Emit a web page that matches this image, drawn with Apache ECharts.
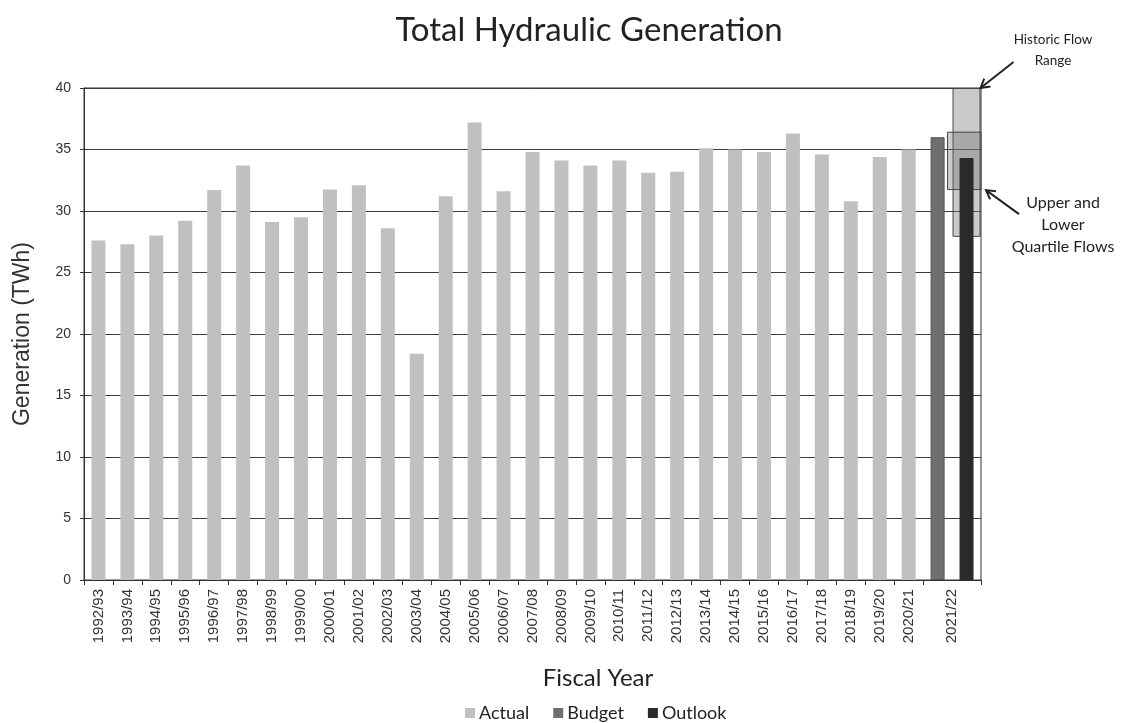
<!DOCTYPE html>
<html>
<head>
<meta charset="utf-8">
<script src="https://cdn.jsdelivr.net/npm/echarts@6/dist/echarts.min.js"></script>
<style>
  html, body { margin: 0; padding: 0; background: #ffffff; }
  #chart { width: 1125px; height: 723px; }
</style>
</head>
<body>
<div id="chart"></div>
<script>
// Fiscal years with recorded generation
const fiscalYears = [
  '1992/93', '1993/94', '1994/95', '1995/96', '1996/97', '1997/98', '1998/99', '1999/00',
  '2000/01', '2001/02', '2002/03', '2003/04', '2004/05', '2005/06', '2006/07', '2007/08',
  '2008/09', '2009/10', '2010/11', '2011/12', '2012/13', '2013/14', '2014/15', '2015/16',
  '2016/17', '2017/18', '2018/19', '2019/20', '2020/21'
];
// Actual hydraulic generation (TWh)
const actualTWh = [
  27.6, 27.3, 28.0, 29.2, 31.7, 33.7, 29.1, 29.5,
  31.75, 32.1, 28.6, 18.4, 31.2, 37.2, 31.6, 34.8,
  34.1, 33.7, 34.1, 33.1, 33.2, 35.1, 35.0, 34.8,
  36.3, 34.6, 30.8, 34.4, 35.0
];
// Current year: budget and outlook (TWh)
const forecastYear = '2021/22';
const budgetTWh = 36.0;
const outlookTWh = 34.3;
// Flow ranges shown around the outlook (TWh)
const historicRange = [27.9, 40.0];
const quartileRange = [31.7, 36.45];
// Value axis ticks
const yMin = 0, yMax = 40, yStep = 5;

const FONT_SANS = 'Liberation Sans, Arial, sans-serif';
const FONT_TEXT = 'Lato, "Open Sans", sans-serif';

// One slot per past year, then two slots for the current year
const slots = fiscalYears.concat(['Budget', 'Outlook']);
const n = slots.length;
const iBudget = n - 2, iOutlook = n - 1;
const only = (idx, v) => slots.map((_, i) => (i === idx ? v : '-'));

const actualData = slots.map((_, i) => (i < actualTWh.length ? actualTWh[i] : '-'));
const budgetData = only(iBudget, budgetTWh);
const outlookData = only(iOutlook, outlookTWh);
const histBase = only(iOutlook, historicRange[0]);
const histSpan = only(iOutlook, +(historicRange[1] - historicRange[0]).toFixed(3));
const quartBase = only(iOutlook, quartileRange[0]);
const quartSpan = only(iOutlook, +(quartileRange[1] - quartileRange[0]).toFixed(3));

// Label positions on a continuous axis: past years sit at slot centres,
// the current year sits midway between its two slots.
function yearLabel(v) {
  const h = Math.round(v * 2);
  if (h % 2 === 1) {
    const k = (h - 1) / 2;
    return k < fiscalYears.length ? fiscalYears[k] : '';
  }
  return h / 2 === iOutlook ? forecastYear : '';
}

const chart = echarts.init(document.getElementById('chart'), null, { renderer: 'canvas' });

const hiddenCat = { type: 'category', data: slots, show: false, boundaryGap: true };
const invisible = { color: 'rgba(0,0,0,0)', borderWidth: 0 };

chart.setOption({
  animation: false,
  backgroundColor: '#ffffff',
  title: [
    {
      text: 'Total Hydraulic Generation',
      left: 584, top: 9, textAlign: 'center',
      textStyle: { fontFamily: FONT_TEXT, fontSize: 33, fontWeight: 'normal', color: '#222' }
    },
    {
      text: 'Fiscal Year',
      left: 593, top: 661, textAlign: 'center',
      textStyle: { fontFamily: FONT_TEXT, fontSize: 24, fontWeight: 'normal', color: '#222' }
    }
  ],
  legend: {
    data: ['Actual', 'Budget', 'Outlook'],
    left: 460, top: 699,
    icon: 'rect', itemWidth: 10, itemHeight: 10, itemGap: 24,
    itemStyle: { borderWidth: 0 },
    textStyle: { fontFamily: FONT_TEXT, fontSize: 18, color: '#222', padding: [0, 0, 0, -1] }
  },
  grid: {
    left: 84, right: 144, top: 88, bottom: 143,
    show: true, borderColor: '#333', borderWidth: 1, backgroundColor: 'transparent'
  },
  xAxis: [
    {
      type: 'category', data: slots, boundaryGap: true,
      axisLine: { lineStyle: { color: '#333', width: 1 } },
      axisTick: { show: true, length: 5, interval: (i) => i !== iOutlook, lineStyle: { color: '#333' } },
      axisLabel: { show: false },
      splitLine: { show: false }
    },
    hiddenCat,
    hiddenCat,
    {
      type: 'value', min: 0, max: n, interval: 0.5, position: 'bottom',
      axisLine: { show: false }, axisTick: { show: false }, splitLine: { show: false },
      axisLabel: {
        rotate: 90, margin: 9, formatter: yearLabel,
        fontFamily: FONT_SANS, fontSize: 15, color: '#333',
        showMinLabel: true, showMaxLabel: true
      }
    }
  ],
  yAxis: {
    type: 'value', min: yMin, max: yMax, interval: yStep,
    name: 'Generation (TWh)', nameLocation: 'middle', nameGap: 50,
    nameTextStyle: { fontFamily: FONT_SANS, fontSize: 23, color: '#333' },
    axisLine: { show: true, lineStyle: { color: '#333', width: 1 } },
    axisTick: { show: true, length: 4, lineStyle: { color: '#333' } },
    axisLabel: { fontFamily: FONT_SANS, fontSize: 14, color: '#333', margin: 13 },
    splitLine: { show: true, lineStyle: { color: '#3a3a3a', width: 1 } }
  },
  series: [
    {
      name: 'Actual', type: 'bar', xAxisIndex: 0, data: actualData,
      barWidth: 14, barGap: '-100%', z: 2,
      itemStyle: { color: '#c0c0c0' }
    },
    {
      name: 'Budget', type: 'bar', xAxisIndex: 0, data: budgetData,
      barWidth: 14, barGap: '-100%', z: 2,
      itemStyle: { color: '#6f6f6f', borderColor: '#555', borderWidth: 1 }
    },
    {
      name: 'Outlook', type: 'bar', xAxisIndex: 0, data: outlookData,
      barWidth: 14, barGap: '-100%', z: 6,
      itemStyle: { color: '#2a2a2a' }
    },
    // Historic flow range box
    {
      name: 'hist-base', type: 'bar', xAxisIndex: 1, stack: 'hist', data: histBase,
      barWidth: 28, z: 1, silent: true, itemStyle: invisible
    },
    {
      name: 'Historic Flow Range', type: 'bar', xAxisIndex: 1, stack: 'hist', data: histSpan,
      barWidth: 28, z: 1, silent: true,
      itemStyle: { color: 'rgba(128,128,128,0.42)', borderColor: '#444', borderWidth: 1 }
    },
    // Upper and lower quartile box
    {
      name: 'quart-base', type: 'bar', xAxisIndex: 2, stack: 'quart', data: quartBase,
      barWidth: 39, z: 3, silent: true, itemStyle: invisible
    },
    {
      name: 'Quartile Flows', type: 'bar', xAxisIndex: 2, stack: 'quart', data: quartSpan,
      barWidth: 39, z: 3, silent: true,
      itemStyle: { color: 'rgba(110,110,110,0.35)', borderColor: '#444', borderWidth: 1 }
    }
  ]
});

// Callout labels with arrows pointing at the range boxes
function arrow(from, to, id) {
  const dx = to[0] - from[0], dy = to[1] - from[1];
  const len = Math.hypot(dx, dy);
  const ux = dx / len, uy = dy / len;
  const head = 10, spread = Math.PI / 6;
  const wing = (s) => {
    const c = Math.cos(s), sn = Math.sin(s);
    const rx = -(ux * c - uy * sn), ry = -(ux * sn + uy * c);
    return [to[0] + rx * head, to[1] + ry * head];
  };
  return [
    { type: 'line', id: id + '-shaft', shape: { x1: from[0], y1: from[1], x2: to[0], y2: to[1] },
      style: { stroke: '#222', lineWidth: 2 }, z: 10 },
    { type: 'polyline', id: id + '-head', shape: { points: [wing(spread), to, wing(-spread)] },
      style: { stroke: '#222', lineWidth: 2, fill: null }, z: 10 }
  ];
}

function noteText(lines, cx, y0, step, size, id) {
  return lines.map((t, k) => ({
    type: 'text', id: id + k, x: cx, y: y0 + k * step, z: 10,
    style: { text: t, textAlign: 'center', textVerticalAlign: 'middle',
             font: size + 'px ' + FONT_TEXT, fill: '#222' }
  }));
}

const px = (v) => chart.convertToPixel({ xAxisIndex: 3 }, v);
const py = (v) => chart.convertToPixel({ yAxisIndex: 0 }, v);
const cOut = px(iOutlook + 0.5);
const histCorner = [cOut + 14, py(historicRange[1])];
const quartCorner = [cOut + 19.5, py(quartileRange[0])];

chart.setOption({
  graphic: [].concat(
    noteText(['Historic Flow', 'Range'], 1053, 40, 21, 13.5, 'hist-note'),
    arrow([histCorner[0] + 33, histCorner[1] - 26], histCorner, 'hist-arrow'),
    noteText(['Upper and', 'Lower', 'Quartile Flows'], 1063, 203, 22, 16, 'quart-note'),
    arrow([quartCorner[0] + 33, quartCorner[1] + 24], quartCorner, 'quart-arrow')
  )
});
</script>
</body>
</html>
